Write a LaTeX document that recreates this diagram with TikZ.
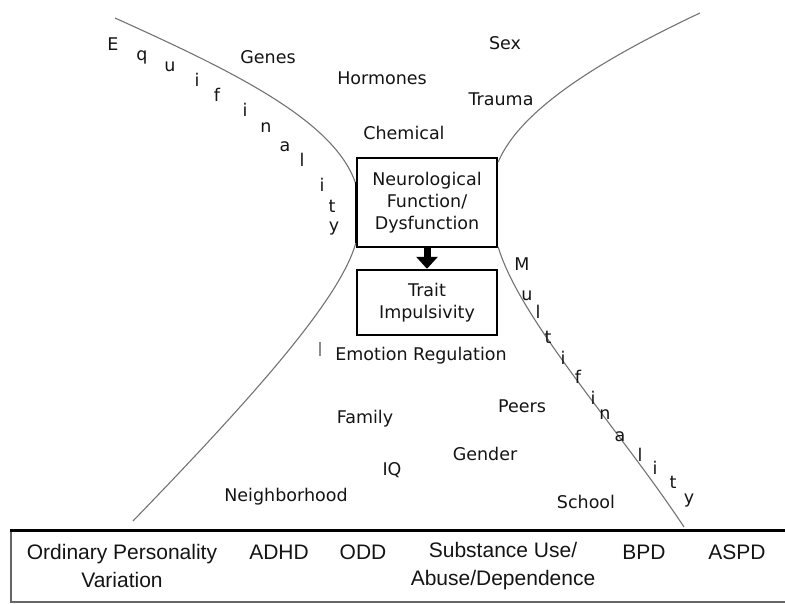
\documentclass[tikz,border=0pt]{standalone}
\usepackage{fontspec}
\setmainfont{DejaVu Sans}
\newfontfamily\arialfont{Liberation Sans}
\usetikzlibrary{arrows.meta}
\begin{document}
\begin{tikzpicture}[x=1pt,y=-1pt,
  lbl/.style={inner sep=0pt,text=black!92,font=\fontsize{17.5}{22}\selectfont},
  letter/.style={inner sep=0pt,text=black!92,font=\fontsize{17.5}{22}\selectfont},
  boxed/.style={draw=black,line width=2.4pt,inner sep=0pt,text=black!92,align=center,
    font=\fontsize{17.5}{22}\selectfont},
  curve/.style={draw=black!55,line width=1.1pt},
  bottomlbl/.style={inner sep=0pt,text=black!92,align=center,font=\arialfont\fontsize{21}{28}\selectfont}]
\useasboundingbox (0,0) rectangle (785,604);
\clip (0,0) rectangle (785,604);

% boxes
\node[boxed,minimum width=140pt,minimum height=89pt] (neuro) at (427,202.5)
  {Neurological\\Function/\\Dysfunction};
\node[boxed,minimum width=140pt,minimum height=65pt] (trait) at (427,302.5)
  {Trait\\Impulsivity};
\draw[line width=7pt,-{Triangle[width=21pt,length=12pt]}] (neuro.south) -- (trait.north);

% curves
\coordinate (ul0) at (115,18);
\coordinate (ur0) at (700,13);
\coordinate (ll0) at (133,521);
\coordinate (lr0) at (684,527);
\path[curve] (ul0) .. controls (230,70) and (335,120) .. (neuro.north west |- 0,184);
\path[curve] (neuro.north west |- 0,243) .. controls (340,300) and (250,400) .. (ll0);
\path[curve] (ur0) .. controls (600,60) and (520,110) .. (neuro.north east |- 0,162);
\path[curve] (neuro.north east |- 0,247) .. controls (520,320) and (620,430) .. (lr0);
\draw[line width=2.6pt] (neuro.north west |- 0,182) -- (neuro.north west |- 0,243);

% labels
\node[lbl] (genes) at (268,57) {Genes};
\node[lbl] (hormones) at (382,78) {Hormones};
\node[lbl] (sex) at (505,43) {Sex};
\node[lbl] (trauma) at (501,99) {Trauma};
\node[lbl] (chemical) at (404,133) {Chemical};
\node[lbl] (emotion) at (421,356) {Emotion Regulation};
\node[lbl] (family) at (365,419) {Family};
\node[lbl] (peers) at (522,406) {Peers};
\node[lbl] (gender) at (485,454) {Gender};
\node[lbl] (iq) at (392,470) {IQ};
\node[lbl] (neigh) at (286,497) {Neighborhood};
\node[lbl] (school) at (586,502) {School};
\coordinate (tick1) at (320,342);
\coordinate (tick2) at (320,356);
\draw[black!45,line width=1.3pt] (tick1) -- (tick2);

% Equifinality
\foreach \px/\py/\ch/\nm in {113/45/E/e1,142/55/q/e2,170/66/u/e3,197/81/i/e4,217/96/f/e5,
  245/111/i/e6,266/127/n/e7,285/146/a/e8,302/161/l/e9,322/186/i/e10,332/207/t/e11,334/226/y/e12}
  \node[letter,anchor=base] (\nm) at (\px,\py+6) {\ch};

% Multifinality
\foreach \px/\py/\ch/\nm in {522/265/M/m1,527/295/u/m2,538/313/l/m3,548/337/t/m4,563/358/i/m5,
  578/377/f/m6,593/398/i/m7,605/413/n/m8,620/435/a/m9,640/455/l/m10,655/468/i/m11,673/482/t/m12,689/497/y/m13}
  \node[letter,anchor=base] (\nm) at (\px,\py+6) {\ch};

% bottom bar
\node[draw=black!60,line width=1.2pt,minimum width=779pt,minimum height=71pt,inner sep=0pt] (bar) at (400.5,566.5) {};
\draw[line width=2.4pt] (bar.north west) -- (bar.north east);
\node[bottomlbl] (opv) at (122,566) {Ordinary Personality\\Variation};
\node[bottomlbl,anchor=base] (adhd) at (279,559) {ADHD};
\node[bottomlbl,anchor=base] (odd) at (363,559) {ODD};
\node[bottomlbl] (sud) at (503,566) {Substance Use/\\Abuse/Dependence};
\node[bottomlbl,anchor=base] (bpd) at (644,559) {BPD};
\node[bottomlbl,anchor=base] (aspd) at (737,559) {ASPD};
\end{tikzpicture}
\end{document}
